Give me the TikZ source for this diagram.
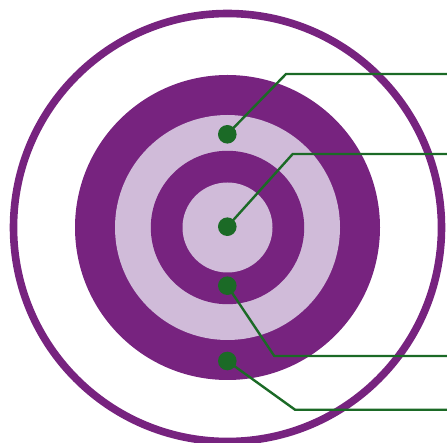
\documentclass[tikz,border=0pt]{standalone}
\usetikzlibrary{calc}
\definecolor{ringpurple}{HTML}{77237F}
\definecolor{ringlilac}{HTML}{D0BBD9}
\definecolor{leadgreen}{HTML}{1B6A26}
\tikzset{
  ring/.style={fill=#1,draw=none},
  hit/.style={circle,fill=leadgreen,inner sep=0pt,minimum size=18.6pt},
  lead/.style={draw=leadgreen,line width=2.4pt,line join=miter}
}
\begin{document}
\begin{tikzpicture}[x=1pt,y=-1pt,line cap=butt]
  \useasboundingbox (0,0) rectangle (447,443);
  \clip (0,0) rectangle (447,443);
  % target rings
  \draw[ringpurple,line width=7.6pt] (227.5,227.5) circle (214);
  \fill[ring=ringpurple] (227.5,227.5) circle (152.5);
  \fill[ring=ringlilac] (227.5,227.5) circle (112.5);
  \fill[ring=ringpurple] (227.5,227.5) circle (76.7);
  \fill[ring=ringlilac] (227.5,227.5) circle (45);
  % hits
  \node[hit] (h1) at (227.3,134.3) {};
  \node[hit] (h2) at (227.3,226.7) {};
  \node[hit] (h3) at (227.3,285.7) {};
  \node[hit] (h4) at (227.3,361) {};
  \coordinate (k1) at (286,74);
  \coordinate (k2) at (292.7,154);
  \coordinate (k3) at (274.3,356);
  \coordinate (k4) at (295,409.7);
  \coordinate (e1) at (447,74);
  \coordinate (e2) at (447,154);
  \coordinate (e3) at (447,356);
  \coordinate (e4) at (447,409.7);
  % leaders
  \draw[lead] (h1.center) -- (k1) -- (e1);
  \draw[lead] (h2.center) -- (k2) -- (e2);
  \draw[lead] (h3.center) -- (k3) -- (e3);
  \draw[lead] (h4.center) -- (k4) -- (e4);
\end{tikzpicture}
\end{document}
